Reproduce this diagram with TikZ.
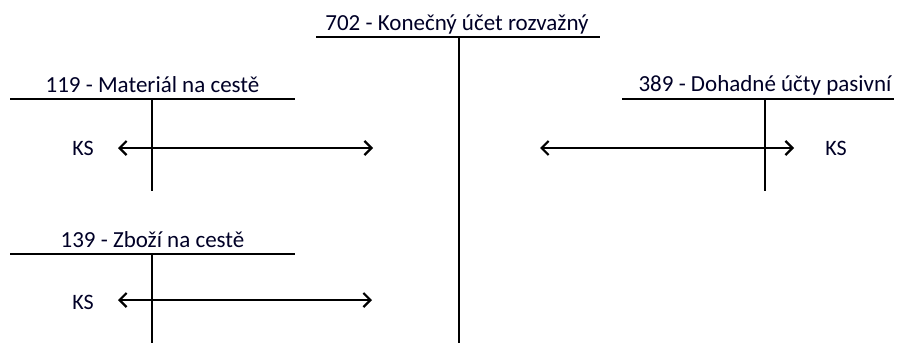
\documentclass[tikz,border=0pt]{standalone}
\usepackage{fontspec}
\setmainfont{Carlito}
\usetikzlibrary{arrows.meta}
\begin{document}
\begin{tikzpicture}[x=1pt,y=-1pt,
  lbl/.style={font=\fontsize{23}{26}\selectfont, anchor=base, inner sep=0pt, text=black!85!blue},
  ks/.style={font=\fontsize{22}{26}\selectfont, anchor=center, inner sep=0pt, text=black!85!blue},
  tline/.style={line width=1.2pt, black},
  flow/.style={line width=2.2pt, black, {Straight Barb[length=7pt,width=14pt,line width=2.2pt]}-{Straight Barb[length=7pt,width=14pt,line width=2.2pt]}}]
\useasboundingbox (0,0) rectangle (897,343);
% 702
\node[lbl] (t702) at (457,30) {702 - Konečný účet rozvažný};
\coordinate (a702l) at (316,37);
\coordinate (a702r) at (600,37);
\coordinate (a702t) at (459,37);
\coordinate (a702b) at (459,343);
\draw[tline] (a702l) -- (a702r);
\draw[tline] (a702t) -- (a702b);
% 119
\node[lbl] (t119) at (152.5,92) {119 - Materiál na cestě};
\coordinate (a119l) at (10,99);
\coordinate (a119r) at (295,99);
\coordinate (a119t) at (152,99);
\coordinate (a119b) at (152,191);
\draw[tline] (a119l) -- (a119r);
\draw[tline] (a119t) -- (a119b);
\node[ks] (ks1) at (83,148) {KS};
\coordinate (f1l) at (118,148);
\coordinate (f1r) at (373,148);
\draw[flow] (f1l) -- (f1r);
% 389
\node[lbl] (t389) at (765,91) {389 - Dohadné účty pasivní};
\coordinate (a389l) at (622,99);
\coordinate (a389r) at (894,99);
\coordinate (a389t) at (765,99);
\coordinate (a389b) at (765,191);
\draw[tline] (a389l) -- (a389r);
\draw[tline] (a389t) -- (a389b);
\node[ks] (ks2) at (836,148) {KS};
\coordinate (f2l) at (540,148);
\coordinate (f2r) at (794,148);
\draw[flow] (f2l) -- (f2r);
% 139
\node[lbl] (t139) at (152.5,247) {139 - Zboží na cestě};
\coordinate (a139l) at (10,254);
\coordinate (a139r) at (295,254);
\coordinate (a139t) at (152,254);
\coordinate (a139b) at (152,343);
\draw[tline] (a139l) -- (a139r);
\draw[tline] (a139t) -- (a139b);
\node[ks] (ks3) at (83,302) {KS};
\coordinate (f3l) at (118,300);
\coordinate (f3r) at (372,300);
\draw[flow] (f3l) -- (f3r);
\end{tikzpicture}
\end{document}
